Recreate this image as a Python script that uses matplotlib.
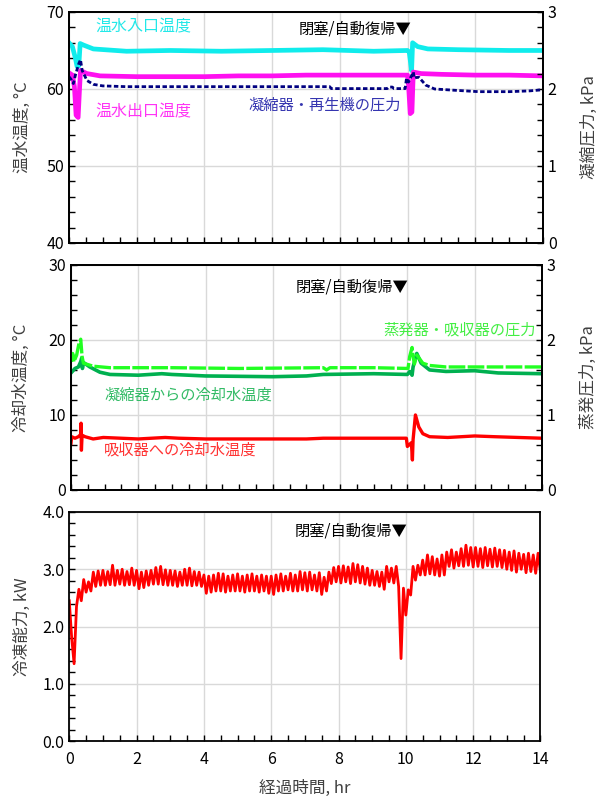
import numpy as np
import matplotlib
matplotlib.use("Agg")
import matplotlib.pyplot as plt
from matplotlib.ticker import MultipleLocator

plt.rcParams['font.family'] = ['Noto Sans CJK JP', 'DejaVu Sans']

# ---------------- data: top panel (hot water temps, condenser pressure) ----------------
t_hw_in = [0, 0.10, 0.19, 0.24, 0.29, 0.33, 0.43, 0.72, 1.7, 3.0, 4.5, 6.0, 7.5, 9.0, 10.0,
           10.05, 10.12, 10.15, 10.3, 10.6, 11.5, 13.0, 14.0]
hw_in = [66.0, 65.5, 64.0, 62.9, 63.0, 65.9, 65.7, 65.2, 64.9, 65.0, 64.9, 65.0, 65.1, 64.9, 65.0,
         64.8, 62.4, 66.0, 65.5, 65.2, 65.1, 65.0, 65.0]

t_hw_out = [0, 0.10, 0.16, 0.21, 0.27, 0.31, 0.34, 0.53, 0.92, 2.0, 3.0, 4.0, 5.0, 6.0, 7.0, 8.0,
            9.0, 10.0, 10.03, 10.08, 10.13, 10.17, 10.4, 11.0, 12.0, 13.0, 14.0]
hw_out = [62.1, 61.8, 60.3, 56.6, 56.3, 59.9, 62.4, 62.0, 61.7, 61.6, 61.6, 61.6, 61.7, 61.7, 61.8, 61.8,
          61.8, 61.8, 60.5, 56.8, 57.0, 62.2, 62.0, 61.9, 61.8, 61.8, 61.7]

t_p_cond = [0, 0.07, 0.13, 0.19, 0.29, 0.34, 0.39, 0.53, 0.72, 1.0, 1.7, 4.0, 7.7, 7.75, 9.4, 9.45,
            9.55, 9.6, 9.93, 9.97, 10.03, 10.17, 10.2, 10.27, 10.34, 10.54, 10.8, 11.33, 12.1, 13.0,
            13.6, 14.0]
p_cond = [2.16, 2.12, 2.07, 2.18, 2.33, 2.38, 2.24, 2.11, 2.06, 2.04, 2.03, 2.03, 2.03, 2.005, 2.005, 2.025,
          2.025, 2.005, 2.005, 2.14, 2.09, 2.22, 2.14, 2.15, 2.15, 2.05, 2.00, 1.985, 1.965, 1.965,
          1.975, 1.99]

# ---------------- data: middle panel (cooling water temps, evaporator pressure) ----------------
t_p_evap = [0, 0.05, 0.09, 0.17, 0.24, 0.29, 0.33, 0.37, 0.66, 1.16, 3.0, 5.0, 7.5, 7.6, 7.7, 9.0,
            10.02, 10.07, 10.14, 10.17, 10.21, 10.28, 10.46, 10.66, 11.15, 12.5, 14.0]
p_evap = [1.71, 1.82, 1.71, 1.80, 1.96, 2.01, 1.78, 1.69, 1.65, 1.63, 1.63, 1.62, 1.63, 1.60, 1.63, 1.63,
          1.62, 1.78, 1.90, 1.78, 1.68, 1.80, 1.69, 1.66, 1.64, 1.64, 1.64]

t_cw_cond = [0, 0.12, 0.22, 0.29, 0.32, 0.34, 0.37, 0.56, 0.86, 1.16, 2.0, 2.7, 3.0, 3.5, 4.0, 6.0,
             7.0, 7.5, 9.0, 10.0, 10.07, 10.14, 10.17, 10.28, 10.41, 10.66, 11.15, 12.0, 12.7, 14.0]
cw_cond = [15.6, 16.2, 16.4, 17.1, 17.6, 16.2, 17.0, 16.4, 15.7, 15.4, 15.3, 15.5, 15.4, 15.3, 15.2, 15.1,
           15.2, 15.4, 15.5, 15.4, 15.8, 15.3, 16.4, 18.2, 16.9, 16.0, 15.8, 15.9, 15.6, 15.5]

t_cw_abs = [0, 0.02, 0.12, 0.22, 0.29, 0.30, 0.31, 0.33, 0.42, 0.66, 0.96, 2.0, 2.8, 3.2, 4.0, 5.5,
            7.0, 7.5, 8.5, 9.97, 10.0, 10.12, 10.15, 10.17, 10.24, 10.34, 10.46, 10.66, 11.2, 12.0,
            12.6, 14.0]
cw_abs = [6.2, 7.1, 6.9, 7.1, 7.4, 8.9, 5.3, 7.3, 7.1, 6.8, 7.0, 6.8, 7.0, 6.9, 6.8, 6.8,
          6.8, 6.9, 6.9, 6.9, 5.8, 6.3, 4.0, 6.7, 10.0, 8.4, 7.5, 7.1, 7.0, 7.2,
          7.1, 6.9]

# ---------------- data: bottom panel (cooling capacity, kW, every 1/14 hr) ----------------
capacity = [
    2.45, 1.80, 1.35, 2.35, 2.65, 2.45, 2.82, 2.60, 2.78, 2.62, 2.95, 2.70, 2.97, 2.72,
    2.98, 2.72, 2.96, 2.73, 3.07, 2.72, 2.98, 2.74, 3.00, 2.72, 2.96, 2.73, 3.02, 2.72,
    2.98, 2.66, 2.95, 2.68, 2.97, 2.72, 2.98, 2.74, 3.03, 2.74, 3.05, 2.73, 2.99, 2.72,
    2.98, 2.72, 2.97, 2.70, 2.95, 2.72, 3.00, 2.72, 3.02, 2.71, 2.96, 2.72, 2.95, 2.70,
    2.90, 2.58, 2.88, 2.60, 2.90, 2.62, 2.93, 2.62, 2.92, 2.60, 2.88, 2.62, 2.90, 2.62,
    2.92, 2.62, 2.88, 2.60, 2.90, 2.62, 2.92, 2.62, 2.88, 2.60, 2.90, 2.62, 2.88, 2.58,
    2.88, 2.56, 2.90, 2.62, 2.92, 2.62, 2.88, 2.64, 2.93, 2.62, 2.90, 2.62, 2.96, 2.64,
    2.94, 2.62, 2.95, 2.64, 2.90, 2.62, 2.94, 2.56, 2.86, 2.62, 2.95, 2.75, 3.03, 2.78,
    3.05, 2.76, 3.06, 2.78, 3.04, 2.75, 3.10, 2.78, 3.08, 2.76, 3.05, 2.74, 3.02, 2.72,
    2.98, 2.72, 2.96, 2.70, 2.95, 2.65, 3.05, 2.78, 3.02, 2.76, 3.05, 2.70, 1.44, 2.67,
    2.20, 2.64, 2.55, 3.05, 2.81, 3.07, 2.90, 3.16, 2.90, 3.25, 2.92, 3.22, 2.90, 3.18,
    2.88, 3.25, 2.90, 3.30, 3.05, 3.34, 3.02, 3.30, 3.06, 3.36, 3.05, 3.42, 3.07, 3.38,
    3.04, 3.38, 3.05, 3.36, 3.03, 3.38, 3.06, 3.35, 3.04, 3.37, 3.05, 3.34, 3.03, 3.33,
    3.00, 3.30, 2.98, 3.32, 2.95, 3.28, 3.00, 3.26, 2.94, 3.28, 2.96, 3.25, 2.93, 3.28,
    2.96,
]
t_capacity = np.arange(len(capacity)) / 14.0

x_ticks = [0, 2, 4, 6, 8, 10, 12, 14]
event_label = "閉塞/自動復帰▼"

# ---------------- figure ----------------
fig = plt.figure(figsize=(6.03, 7.98), dpi=100)
ax1 = fig.add_axes([0.1144, 0.6955, 0.786, 0.2895])
ax2 = fig.add_axes([0.1177, 0.386, 0.781, 0.282])
ax3 = fig.add_axes([0.1149, 0.0714, 0.7814, 0.2870])

GRID = '#d9d9d9'
LABC = '#404040'


def style_axis(ax, ylim, ymaj, ymin, xlabels=False):
    ax.set_xlim(0, 14)
    ax.set_ylim(*ylim)
    ax.xaxis.set_major_locator(MultipleLocator(2))
    ax.xaxis.set_minor_locator(MultipleLocator(0.5))
    ax.yaxis.set_major_locator(MultipleLocator(ymaj))
    ax.yaxis.set_minor_locator(MultipleLocator(ymin))
    ax.grid(True, which='major', color=GRID, lw=1.0)
    ax.set_axisbelow(True)
    ax.tick_params(which='both', direction='in', length=4, width=1.0, top=False, right=False,
                   labelsize=11.5, colors='black')
    if not xlabels:
        ax.tick_params(axis='x', labelbottom=False)
    for s in ax.spines.values():
        s.set_color('black')
        s.set_linewidth(1.3)


def style_twin(tw, ylim):
    tw.set_ylim(*ylim)
    tw.yaxis.set_major_locator(MultipleLocator(1))
    tw.yaxis.set_minor_locator(MultipleLocator(0.2))
    tw.tick_params(which='both', direction='in', length=4, width=1.0, labelsize=11.5)
    tw.tick_params(axis='y', which='both', left=False, right=True)
    for s in tw.spines.values():
        s.set_color('black')
        s.set_linewidth(1.3)


# ---- top panel ----
style_axis(ax1, (40, 70), 10, 2)
ax1.plot(t_hw_in, hw_in, color='#10ECEC', lw=3.4, solid_joinstyle='round')
ax1.plot(t_hw_out, hw_out, color='#FF10F0', lw=3.4, solid_joinstyle='round')
tw1 = ax1.twinx()
style_twin(tw1, (0, 3))
tw1.plot(t_p_cond, p_cond, color='#000080', lw=2.0, linestyle=(0, (1.6, 0.9)))
ax1.set_ylabel("温水温度, °C", fontsize=12, color=LABC)
ax1.yaxis.set_label_coords(-0.081, 0.5)
tw1.set_ylabel("凝縮圧力, kPa", fontsize=12, color=LABC)
tw1.yaxis.set_label_coords(1.081, 0.5)
ax1.text(0.77, 68.0, "温水入口温度", color='#22E8E8', fontsize=11.5, ha='left', va='center')
ax1.text(0.77, 57.0, "温水出口温度", color='#FF33F5', fontsize=11.5, ha='left', va='center')
ax1.text(5.3, 57.9, "凝縮器・再生機の圧力", color='#3535B0', fontsize=11, ha='left', va='center')
ax1.text(10.12, 67.75, event_label, color='black', fontsize=11, ha='right', va='center')

# ---- middle panel ----
style_axis(ax2, (0, 30), 10, 2)
ax2.plot(t_cw_cond, cw_cond, color='#00B050', lw=2.6)
ax2.plot(t_cw_abs, cw_abs, color='#FF0000', lw=2.4)
tw2 = ax2.twinx()
style_twin(tw2, (0, 3))
tw2.plot(t_p_evap, p_evap, color='#22FF22', lw=2.4, linestyle=(0, (5, 0.7)))
ax2.set_ylabel("冷却水温度, °C", fontsize=12, color=LABC)
ax2.yaxis.set_label_coords(-0.088, 0.5)
tw2.set_ylabel("蒸発圧力, kPa", fontsize=12, color=LABC)
tw2.yaxis.set_label_coords(1.08, 0.5)
ax2.text(10.02, 27.1, event_label, color='black', fontsize=11, ha='right', va='center')
ax2.text(9.3, 21.3, "蒸発器・吸収器の圧力", color='#44EE44', fontsize=11, ha='left', va='center')
ax2.text(0.98, 12.7, "凝縮器からの冷却水温度", color='#33BB66', fontsize=11, ha='left', va='center')
ax2.text(0.98, 5.3, "吸収器への冷却水温度", color='#FF3333', fontsize=11, ha='left', va='center')

# ---- bottom panel ----
style_axis(ax3, (0, 4), 1, 0.2, xlabels=True)
ax3.yaxis.set_major_formatter(matplotlib.ticker.FormatStrFormatter('%.1f'))
ax3.set_xticks(x_ticks)
ax3.plot(t_capacity, capacity, color='#FF0000', lw=2.0)
ax3.set_ylabel("冷凍能力, kW", fontsize=12, color=LABC)
ax3.yaxis.set_label_coords(-0.081, 0.5)
ax3.set_xlabel("経過時間, hr", fontsize=12, color=LABC)
ax3.xaxis.set_label_coords(0.5, -0.17)
ax3.tick_params(axis='x', pad=7)
ax3.text(10.05, 3.66, event_label, color='black', fontsize=11, ha='right', va='center')

fig.savefig("out.png", dpi=100)
